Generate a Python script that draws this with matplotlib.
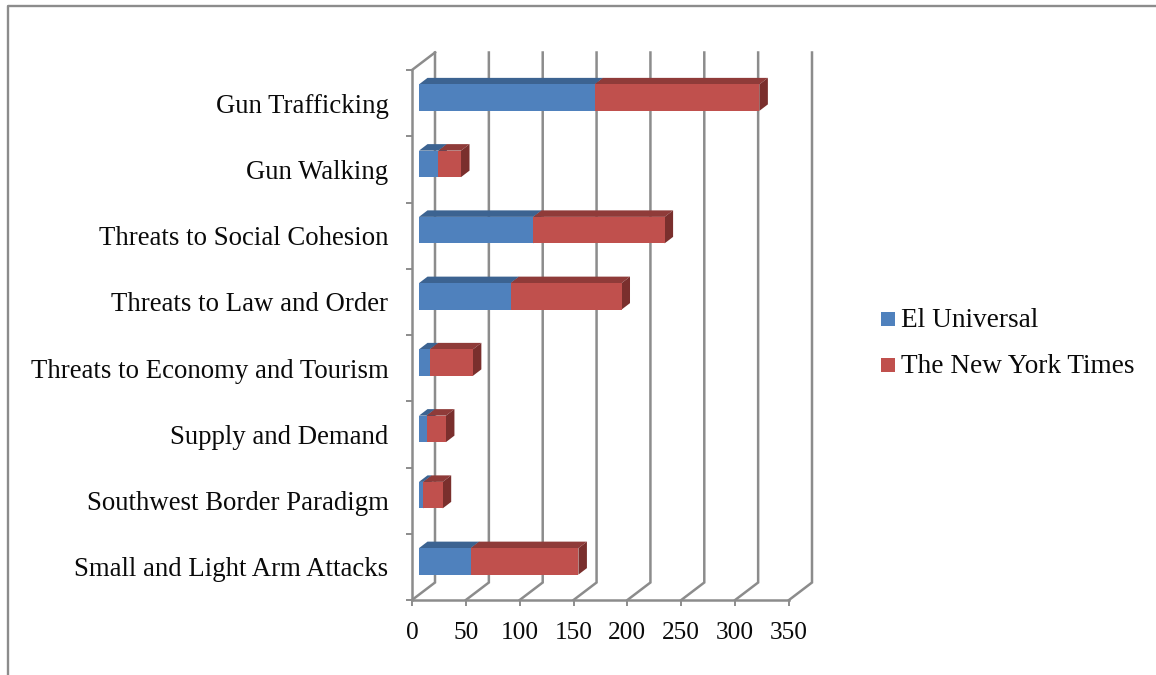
import matplotlib
matplotlib.use('Agg')
import matplotlib.pyplot as plt
from matplotlib.patches import Polygon, Rectangle
from matplotlib.lines import Line2D

categories = ['Small and Light Arm Attacks', 'Southwest Border Paradigm', 'Supply and Demand',
              'Threats to Economy and Tourism', 'Threats to Law and Order',
              'Threats to Social Cohesion', 'Gun Walking', 'Gun Trafficking']
el_universal = [48, 4, 7, 10, 85, 106, 18, 163]
ny_times = [100, 18, 18, 40, 103, 122, 21, 153]
series_names = ['El Universal', 'The New York Times']
x_ticks = [0, 50, 100, 150, 200, 250, 300, 350]

W, H = 1156, 675
GRAY = '#8c8c8c'
BLUE = ('#4f81bd', '#3c6391', '#33547c')
RED = ('#c0504d', '#8f3b39', '#7a2f2d')

plt.rcParams['font.family'] = ['Liberation Serif', 'DejaVu Serif']
fig = plt.figure(figsize=(W / 100, H / 100), dpi=100)

# axes box in pixels: x 412-789, y 70-600
ax = fig.add_axes([412 / W, 1 - 600 / H, 377 / W, 530 / H])
ax.set_xlim(0, 350)
ax.set_ylim(0, 8)
ppx = 350 / 377.
ppy = 8 / 530.

# outer frame of the chart
fig.add_artist(Line2D([8 / W, 8 / W, 1], [0, 1 - 6 / H, 1 - 6 / H], color=GRAY, lw=1.7))

# the 3d back wall and floor
wall_x, wall_y = 23 * ppx, 17.5 * ppy
for t in x_ticks:
    ax.plot([t, t + wall_x, t + wall_x], [0, wall_y, 8 + wall_y], color=GRAY, lw=1.8,
            clip_on=False, zorder=1, solid_joinstyle='miter')
ax.plot([0, wall_x], [8, 8 + wall_y], color=GRAY, lw=1.8, clip_on=False, zorder=1)


def box(left, width, y, colors):
    # front face goes through barh, top and side are the depth polygons
    shift = 7 * ppx
    h = 26.5 * ppy
    dx, dy = 8.5 * ppx, 6.5 * ppy
    x0 = left + shift
    x1 = x0 + width
    ax.barh(y, width, h, left=x0, color=colors[0], edgecolor='none', zorder=4)
    ax.add_patch(Polygon([(x0, y + h / 2), (x0 + dx, y + h / 2 + dy), (x1 + dx, y + h / 2 + dy), (x1, y + h / 2)],
                         closed=True, fc=colors[1], ec='none', clip_on=False, zorder=3))
    ax.add_patch(Polygon([(x1, y - h / 2), (x1 + dx, y - h / 2 + dy), (x1 + dx, y + h / 2 + dy), (x1, y + h / 2)],
                         closed=True, fc=colors[2], ec='none', clip_on=False, zorder=3))


for i in range(len(categories)):
    y = i + 0.5 + 5.5 * ppy
    box(0, el_universal[i], y, BLUE)
    box(el_universal[i], ny_times[i], y, RED)

for s in ['top', 'right']:
    ax.spines[s].set_visible(False)
for s in ['left', 'bottom']:
    ax.spines[s].set_color(GRAY)
    ax.spines[s].set_linewidth(1.8)

ax.set_xticks(x_ticks)
ax.tick_params(axis='x', length=4, width=1.4, color=GRAY, labelsize=18.3, pad=11.5, labelcolor='#0a0a0a')
ax.set_yticks(range(9))
ax.set_yticklabels([])
ax.tick_params(axis='y', which='major', length=4, width=1.4, color=GRAY)
ax.set_yticks([i + 0.5 for i in range(8)], minor=True)
ax.set_yticklabels(categories, minor=True)
ax.tick_params(axis='y', which='minor', length=0, labelsize=19.3, pad=17, labelcolor='#0a0a0a')

# legend keys and names
for name, c, py in zip(series_names, [BLUE[0], RED[0]], [319, 365]):
    fig.add_artist(Rectangle((881 / W, 1 - (py + 7) / H), 14 / W, 14 / H, fc=c, ec='none',
                             transform=fig.transFigure))
    fig.text(901 / W, 1 - (py + 1.5) / H, name, fontsize=19.6, va='center', ha='left', color='#0a0a0a')

plt.savefig('out.png', dpi=100)
